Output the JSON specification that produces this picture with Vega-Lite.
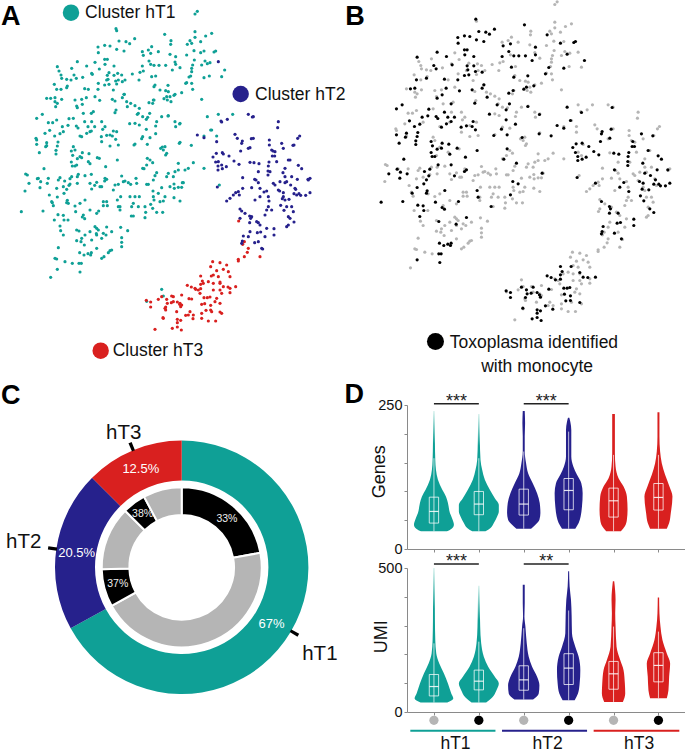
{"$schema":"https://vega.github.io/schema/vega-lite/v6.json","padding":0,"background":"white","bounds":"flush","columns":2,"spacing":{"row":19,"column":0},"resolve":{"scale":{"color":"independent"}},
"config":{"view":{"stroke":null},"font":"Liberation Sans","axis":{"grid":false,"domainColor":"#8a8a8a","tickColor":"#8a8a8a","labelColor":"#111","titleColor":"#111","labelFont":"Liberation Sans","titleFont":"Liberation Sans","titleFontWeight":"normal","labelFontSize":14.5}},
"datasets":{
"points":[
{"x":585,"y":42,"c":"hT1","t":0},{"x":592,"y":34,"c":"hT1","t":0},{"x":350,"y":92,"c":"hT1","t":0},{"x":585,"y":95,"c":"hT1","t":0},{"x":585,"y":112,"c":"hT1","t":0},{"x":617,"y":108,"c":"hT1","t":0},{"x":635,"y":100,"c":"hT1","t":0},{"x":513,"y":122,"c":"hT1","t":0},{"x":512,"y":133,"c":"hT1","t":0},{"x":570,"y":122,"c":"hT1","t":0},{"x":575,"y":130,"c":"hT1","t":0},{"x":602,"y":125,"c":"hT1","t":0},{"x":455,"y":140,"c":"hT1","t":0},{"x":445,"y":150,"c":"hT1","t":0},{"x":427,"y":155,"c":"hT1","t":0},{"x":475,"y":155,"c":"hT1","t":0},{"x":510,"y":163,"c":"hT1","t":0},{"x":560,"y":165,"c":"hT1","t":0},{"x":582,"y":152,"c":"hT1","t":0},{"x":612,"y":153,"c":"hT1","t":0},{"x":615,"y":183,"c":"hT1","t":0},{"x":630,"y":188,"c":"hT1","t":0},{"x":583,"y":180,"c":"hT1","t":0},{"x":525,"y":186,"c":"hT1","t":0},{"x":452,"y":193,"c":"hT1","t":0},{"x":540,"y":203,"c":"hT1","t":0},{"x":578,"y":195,"c":"hT1","t":0},{"x":575,"y":205,"c":"hT1","t":0},{"x":430,"y":213,"c":"hT1","t":0},{"x":420,"y":217,"c":"hT1","t":0},{"x":397,"y":222,"c":"hT1","t":0},{"x":365,"y":225,"c":"hT1","t":0},{"x":605,"y":195,"c":"hT1","t":0},{"x":665,"y":230,"c":"hT1","t":0},{"x":628,"y":228,"c":"hT1","t":0},{"x":575,"y":215,"c":"hT1","t":0},{"x":572,"y":228,"c":"hT1","t":0},{"x":560,"y":248,"c":"hT1","t":0},{"x":575,"y":250,"c":"hT1","t":0},{"x":578,"y":268,"c":"hT1","t":0},{"x":467,"y":228,"c":"hT1","t":0},{"x":417,"y":240,"c":"hT1","t":0},{"x":465,"y":255,"c":"hT1","t":0},{"x":285,"y":187,"c":"hT1","t":0},{"x":298,"y":207,"c":"hT1","t":0},{"x":275,"y":220,"c":"hT1","t":0},{"x":248,"y":232,"c":"hT1","t":0},{"x":215,"y":205,"c":"hT1","t":0},{"x":177,"y":213,"c":"hT1","t":0},{"x":183,"y":225,"c":"hT1","t":0},{"x":185,"y":235,"c":"hT1","t":0},{"x":213,"y":240,"c":"hT1","t":0},{"x":200,"y":238,"c":"hT1","t":0},{"x":353,"y":220,"c":"hT1","t":0},{"x":355,"y":240,"c":"hT1","t":0},{"x":327,"y":218,"c":"hT1","t":0},{"x":320,"y":240,"c":"hT1","t":0},{"x":375,"y":240,"c":"hT1","t":0},{"x":350,"y":252,"c":"hT1","t":0},{"x":163,"y":253,"c":"hT1","t":0},{"x":183,"y":268,"c":"hT1","t":0},{"x":202,"y":258,"c":"hT1","t":0},{"x":265,"y":268,"c":"hT1","t":0},{"x":295,"y":250,"c":"hT1","t":0},{"x":340,"y":270,"c":"hT1","t":0},{"x":373,"y":283,"c":"hT1","t":0},{"x":480,"y":270,"c":"hT1","t":0},{"x":497,"y":272,"c":"hT1","t":0},{"x":505,"y":275,"c":"hT1","t":0},{"x":510,"y":290,"c":"hT1","t":0},{"x":502,"y":300,"c":"hT1","t":0},{"x":525,"y":283,"c":"hT1","t":0},{"x":545,"y":278,"c":"hT1","t":0},{"x":513,"y":305,"c":"hT1","t":0},{"x":605,"y":298,"c":"hT1","t":0},{"x":140,"y":295,"c":"hT1","t":0},{"x":165,"y":305,"c":"hT1","t":0},{"x":172,"y":310,"c":"hT1","t":0},{"x":167,"y":320,"c":"hT1","t":0},{"x":185,"y":298,"c":"hT1","t":0},{"x":225,"y":300,"c":"hT1","t":0},{"x":245,"y":298,"c":"hT1","t":0},{"x":285,"y":290,"c":"hT1","t":0},{"x":345,"y":303,"c":"hT1","t":0},{"x":380,"y":305,"c":"hT1","t":0},{"x":392,"y":310,"c":"hT1","t":0},{"x":405,"y":317,"c":"hT1","t":0},{"x":418,"y":325,"c":"hT1","t":0},{"x":415,"y":340,"c":"hT1","t":0},{"x":462,"y":300,"c":"hT1","t":0},{"x":458,"y":310,"c":"hT1","t":0},{"x":428,"y":350,"c":"hT1","t":0},{"x":348,"y":330,"c":"hT1","t":0},{"x":280,"y":335,"c":"hT1","t":0},{"x":250,"y":340,"c":"hT1","t":0},{"x":230,"y":318,"c":"hT1","t":0},{"x":220,"y":355,"c":"hT1","t":0},{"x":170,"y":360,"c":"hT1","t":0},{"x":158,"y":368,"c":"hT1","t":0},{"x":145,"y":368,"c":"hT1","t":0},{"x":190,"y":395,"c":"hT1","t":0},{"x":135,"y":400,"c":"hT1","t":0},{"x":108,"y":415,"c":"hT1","t":0},{"x":110,"y":420,"c":"hT1","t":0},{"x":275,"y":365,"c":"hT1","t":0},{"x":305,"y":365,"c":"hT1","t":0},{"x":315,"y":380,"c":"hT1","t":0},{"x":308,"y":388,"c":"hT1","t":0},{"x":330,"y":405,"c":"hT1","t":0},{"x":350,"y":395,"c":"hT1","t":0},{"x":240,"y":408,"c":"hT1","t":0},{"x":270,"y":395,"c":"hT1","t":0},{"x":405,"y":370,"c":"hT1","t":0},{"x":418,"y":375,"c":"hT1","t":0},{"x":443,"y":352,"c":"hT1","t":0},{"x":470,"y":365,"c":"hT1","t":0},{"x":467,"y":378,"c":"hT1","t":0},{"x":485,"y":350,"c":"hT1","t":0},{"x":505,"y":347,"c":"hT1","t":0},{"x":525,"y":365,"c":"hT1","t":0},{"x":527,"y":380,"c":"hT1","t":0},{"x":540,"y":370,"c":"hT1","t":0},{"x":450,"y":413,"c":"hT1","t":0},{"x":428,"y":410,"c":"hT1","t":0},{"x":495,"y":440,"c":"hT1","t":0},{"x":482,"y":445,"c":"hT1","t":0},{"x":490,"y":450,"c":"hT1","t":0},{"x":500,"y":460,"c":"hT1","t":0},{"x":497,"y":465,"c":"hT1","t":0},{"x":405,"y":432,"c":"hT1","t":0},{"x":540,"y":427,"c":"hT1","t":0},{"x":612,"y":408,"c":"hT1","t":0},{"x":635,"y":390,"c":"hT1","t":0},{"x":650,"y":408,"c":"hT1","t":0},{"x":655,"y":343,"c":"hT1","t":0},{"x":698,"y":343,"c":"hT1","t":0},{"x":220,"y":440,"c":"hT1","t":0},{"x":225,"y":450,"c":"hT1","t":0},{"x":240,"y":470,"c":"hT1","t":0},{"x":265,"y":485,"c":"hT1","t":0},{"x":298,"y":475,"c":"hT1","t":0},{"x":330,"y":438,"c":"hT1","t":0},{"x":355,"y":435,"c":"hT1","t":0},{"x":305,"y":425,"c":"hT1","t":0},{"x":140,"y":437,"c":"hT1","t":0},{"x":230,"y":495,"c":"hT1","t":0},{"x":428,"y":505,"c":"hT1","t":0},{"x":440,"y":495,"c":"hT1","t":0},{"x":450,"y":480,"c":"hT1","t":0},{"x":458,"y":488,"c":"hT1","t":0},{"x":465,"y":527,"c":"hT1","t":0},{"x":535,"y":490,"c":"hT1","t":0},{"x":555,"y":510,"c":"hT1","t":0},{"x":565,"y":505,"c":"hT1","t":0},{"x":580,"y":488,"c":"hT1","t":0},{"x":612,"y":505,"c":"hT1","t":0},{"x":505,"y":520,"c":"hT1","t":0},{"x":525,"y":515,"c":"hT1","t":0},{"x":535,"y":510,"c":"hT1","t":0},{"x":77,"y":522,"c":"hT1","t":0},{"x":82,"y":525,"c":"hT1","t":0},{"x":115,"y":535,"c":"hT1","t":0},{"x":145,"y":535,"c":"hT1","t":0},{"x":175,"y":540,"c":"hT1","t":0},{"x":180,"y":533,"c":"hT1","t":0},{"x":75,"y":573,"c":"hT1","t":0},{"x":215,"y":530,"c":"hT1","t":0},{"x":232,"y":530,"c":"hT1","t":0},{"x":232,"y":550,"c":"hT1","t":0},{"x":210,"y":552,"c":"hT1","t":0},{"x":190,"y":560,"c":"hT1","t":0},{"x":170,"y":565,"c":"hT1","t":0},{"x":255,"y":527,"c":"hT1","t":0},{"x":270,"y":550,"c":"hT1","t":0},{"x":290,"y":547,"c":"hT1","t":0},{"x":315,"y":535,"c":"hT1","t":0},{"x":300,"y":560,"c":"hT1","t":0},{"x":365,"y":528,"c":"hT1","t":0},{"x":370,"y":545,"c":"hT1","t":0},{"x":375,"y":543,"c":"hT1","t":0},{"x":385,"y":548,"c":"hT1","t":0},{"x":392,"y":553,"c":"hT1","t":0},{"x":345,"y":555,"c":"hT1","t":0},{"x":355,"y":553,"c":"hT1","t":0},{"x":340,"y":570,"c":"hT1","t":0},{"x":408,"y":535,"c":"hT1","t":0},{"x":410,"y":550,"c":"hT1","t":0},{"x":440,"y":553,"c":"hT1","t":0},{"x":445,"y":553,"c":"hT1","t":0},{"x":460,"y":540,"c":"hT1","t":0},{"x":500,"y":530,"c":"hT1","t":0},{"x":520,"y":530,"c":"hT1","t":0},{"x":550,"y":548,"c":"hT1","t":0},{"x":522,"y":552,"c":"hT1","t":0},{"x":510,"y":560,"c":"hT1","t":0},{"x":485,"y":563,"c":"hT1","t":0},{"x":535,"y":562,"c":"hT1","t":0},{"x":545,"y":562,"c":"hT1","t":0},{"x":523,"y":565,"c":"hT1","t":0},{"x":148,"y":585,"c":"hT1","t":0},{"x":155,"y":605,"c":"hT1","t":0},{"x":160,"y":617,"c":"hT1","t":0},{"x":205,"y":610,"c":"hT1","t":0},{"x":225,"y":618,"c":"hT1","t":0},{"x":240,"y":610,"c":"hT1","t":0},{"x":275,"y":567,"c":"hT1","t":0},{"x":305,"y":560,"c":"hT1","t":0},{"x":320,"y":605,"c":"hT1","t":0},{"x":310,"y":605,"c":"hT1","t":0},{"x":310,"y":617,"c":"hT1","t":0},{"x":322,"y":617,"c":"hT1","t":0},{"x":362,"y":590,"c":"hT1","t":0},{"x":360,"y":620,"c":"hT1","t":0},{"x":360,"y":630,"c":"hT1","t":0},{"x":390,"y":590,"c":"hT1","t":0},{"x":405,"y":590,"c":"hT1","t":0},{"x":418,"y":590,"c":"hT1","t":0},{"x":400,"y":610,"c":"hT1","t":0},{"x":395,"y":620,"c":"hT1","t":0},{"x":400,"y":648,"c":"hT1","t":0},{"x":415,"y":620,"c":"hT1","t":0},{"x":435,"y":620,"c":"hT1","t":0},{"x":437,"y":637,"c":"hT1","t":0},{"x":435,"y":653,"c":"hT1","t":0},{"x":460,"y":590,"c":"hT1","t":0},{"x":462,"y":600,"c":"hT1","t":0},{"x":458,"y":625,"c":"hT1","t":0},{"x":480,"y":605,"c":"hT1","t":0},{"x":490,"y":603,"c":"hT1","t":0},{"x":495,"y":590,"c":"hT1","t":0},{"x":522,"y":593,"c":"hT1","t":0},{"x":540,"y":603,"c":"hT1","t":0},{"x":470,"y":637,"c":"hT1","t":0},{"x":488,"y":637,"c":"hT1","t":0},{"x":163,"y":660,"c":"hT1","t":0},{"x":204,"y":660,"c":"hT1","t":0},{"x":182,"y":692,"c":"hT1","t":0},{"x":190,"y":705,"c":"hT1","t":0},{"x":250,"y":645,"c":"hT1","t":0},{"x":270,"y":630,"c":"hT1","t":0},{"x":290,"y":640,"c":"hT1","t":0},{"x":230,"y":690,"c":"hT1","t":0},{"x":255,"y":705,"c":"hT1","t":0},{"x":245,"y":715,"c":"hT1","t":0},{"x":230,"y":722,"c":"hT1","t":0},{"x":243,"y":725,"c":"hT1","t":0},{"x":285,"y":680,"c":"hT1","t":0},{"x":290,"y":685,"c":"hT1","t":0},{"x":295,"y":690,"c":"hT1","t":0},{"x":270,"y":695,"c":"hT1","t":0},{"x":290,"y":705,"c":"hT1","t":0},{"x":310,"y":700,"c":"hT1","t":0},{"x":318,"y":705,"c":"hT1","t":0},{"x":335,"y":695,"c":"hT1","t":0},{"x":362,"y":682,"c":"hT1","t":0},{"x":383,"y":692,"c":"hT1","t":0},{"x":365,"y":713,"c":"hT1","t":0},{"x":365,"y":727,"c":"hT1","t":0},{"x":365,"y":740,"c":"hT1","t":0},{"x":305,"y":715,"c":"hT1","t":0},{"x":275,"y":720,"c":"hT1","t":0},{"x":253,"y":735,"c":"hT1","t":0},{"x":290,"y":745,"c":"hT1","t":0},{"x":175,"y":743,"c":"hT1","t":0},{"x":330,"y":752,"c":"hT1","t":0},{"x":335,"y":750,"c":"hT1","t":0},{"x":325,"y":758,"c":"hT1","t":0},{"x":305,"y":775,"c":"hT1","t":0},{"x":312,"y":770,"c":"hT1","t":0},{"x":165,"y":775,"c":"hT1","t":0},{"x":170,"y":777,"c":"hT1","t":0},{"x":195,"y":785,"c":"hT1","t":0},{"x":217,"y":790,"c":"hT1","t":0},{"x":152,"y":832,"c":"hT1","t":0},{"x":485,"y":868,"c":"hT1","t":0},{"x":490,"y":888,"c":"hT1","t":0},{"x":440,"y":904,"c":"hT1","t":0},
{"x":655,"y":185,"c":"hT2","t":0},{"x":745,"y":343,"c":"hT2","t":0},{"x":760,"y":350,"c":"hT2","t":0},{"x":663,"y":363,"c":"hT2","t":0},{"x":682,"y":358,"c":"hT2","t":0},{"x":650,"y":425,"c":"hT2","t":0},{"x":705,"y":403,"c":"hT2","t":0},{"x":712,"y":415,"c":"hT2","t":0},{"x":760,"y":415,"c":"hT2","t":0},{"x":745,"y":445,"c":"hT2","t":0},{"x":808,"y":420,"c":"hT2","t":0},{"x":808,"y":435,"c":"hT2","t":0},{"x":815,"y":450,"c":"hT2","t":0},{"x":825,"y":455,"c":"hT2","t":0},{"x":835,"y":365,"c":"hT2","t":0},{"x":833,"y":383,"c":"hT2","t":0},{"x":882,"y":435,"c":"hT2","t":0},{"x":893,"y":415,"c":"hT2","t":0},{"x":899,"y":408,"c":"hT2","t":0},{"x":850,"y":445,"c":"hT2","t":0},{"x":670,"y":462,"c":"hT2","t":0},{"x":750,"y":487,"c":"hT2","t":0},{"x":830,"y":485,"c":"hT2","t":0},{"x":655,"y":485,"c":"hT2","t":0},{"x":665,"y":495,"c":"hT2","t":0},{"x":870,"y":480,"c":"hT2","t":0},{"x":855,"y":505,"c":"hT2","t":0},{"x":810,"y":515,"c":"hT2","t":0},{"x":775,"y":515,"c":"hT2","t":0},{"x":855,"y":530,"c":"hT2","t":0},{"x":875,"y":530,"c":"hT2","t":0},{"x":930,"y":535,"c":"hT2","t":0},{"x":925,"y":540,"c":"hT2","t":0},{"x":728,"y":533,"c":"hT2","t":0},{"x":768,"y":540,"c":"hT2","t":0},{"x":775,"y":548,"c":"hT2","t":0},{"x":820,"y":550,"c":"hT2","t":0},{"x":825,"y":555,"c":"hT2","t":0},{"x":840,"y":545,"c":"hT2","t":0},{"x":860,"y":545,"c":"hT2","t":0},{"x":885,"y":565,"c":"hT2","t":0},{"x":835,"y":570,"c":"hT2","t":0},{"x":800,"y":573,"c":"hT2","t":0},{"x":780,"y":565,"c":"hT2","t":0},{"x":755,"y":563,"c":"hT2","t":0},{"x":728,"y":565,"c":"hT2","t":0},{"x":658,"y":555,"c":"hT1","t":0},{"x":715,"y":575,"c":"hT2","t":0},{"x":700,"y":585,"c":"hT2","t":0},{"x":690,"y":595,"c":"hT2","t":0},{"x":680,"y":603,"c":"hT2","t":0},{"x":718,"y":585,"c":"hT2","t":0},{"x":765,"y":600,"c":"hT2","t":0},{"x":805,"y":590,"c":"hT2","t":0},{"x":850,"y":590,"c":"hT2","t":0},{"x":855,"y":600,"c":"hT2","t":0},{"x":890,"y":585,"c":"hT2","t":0},{"x":860,"y":620,"c":"hT2","t":0},{"x":875,"y":620,"c":"hT2","t":0},{"x":880,"y":635,"c":"hT2","t":0},{"x":865,"y":650,"c":"hT2","t":0},{"x":860,"y":680,"c":"hT2","t":0},{"x":865,"y":675,"c":"hT2","t":0},{"x":805,"y":620,"c":"hT2","t":0},{"x":815,"y":630,"c":"hT2","t":0},{"x":800,"y":630,"c":"hT2","t":0},{"x":795,"y":645,"c":"hT2","t":0},{"x":720,"y":627,"c":"hT2","t":0},{"x":735,"y":640,"c":"hT2","t":0},{"x":755,"y":650,"c":"hT2","t":0},{"x":720,"y":655,"c":"hT2","t":0},{"x":770,"y":665,"c":"hT2","t":0},{"x":780,"y":675,"c":"hT2","t":0},{"x":750,"y":695,"c":"hT2","t":0},{"x":745,"y":710,"c":"hT2","t":0},{"x":800,"y":685,"c":"hT2","t":0},{"x":775,"y":725,"c":"hT2","t":0},{"x":795,"y":710,"c":"hT2","t":0},{"x":788,"y":747,"c":"hT2","t":0},
{"x":716,"y":663,"c":"hT3","t":0},{"x":733,"y":725,"c":"hT3","t":0},{"x":728,"y":733,"c":"hT3","t":0},{"x":745,"y":745,"c":"hT3","t":0},{"x":742,"y":757,"c":"hT3","t":0},{"x":733,"y":770,"c":"hT3","t":0},{"x":715,"y":778,"c":"hT3","t":0},{"x":715,"y":783,"c":"hT3","t":0},{"x":780,"y":770,"c":"hT3","t":0},{"x":638,"y":785,"c":"hT3","t":0},{"x":660,"y":788,"c":"hT3","t":0},{"x":680,"y":795,"c":"hT3","t":0},{"x":632,"y":800,"c":"hT3","t":0},{"x":650,"y":812,"c":"hT3","t":0},{"x":670,"y":808,"c":"hT3","t":0},{"x":685,"y":815,"c":"hT3","t":0},{"x":640,"y":825,"c":"hT3","t":0},{"x":655,"y":830,"c":"hT3","t":0},{"x":690,"y":830,"c":"hT3","t":0},{"x":625,"y":845,"c":"hT3","t":0},{"x":640,"y":850,"c":"hT3","t":0},{"x":610,"y":850,"c":"hT3","t":0},{"x":660,"y":850,"c":"hT3","t":0},{"x":690,"y":865,"c":"hT3","t":0},{"x":690,"y":878,"c":"hT3","t":0},{"x":665,"y":880,"c":"hT3","t":0},{"x":585,"y":865,"c":"hT3","t":0},{"x":595,"y":870,"c":"hT3","t":0},{"x":600,"y":880,"c":"hT3","t":0},{"x":640,"y":870,"c":"hT3","t":0},{"x":660,"y":870,"c":"hT3","t":0},{"x":650,"y":895,"c":"hT3","t":0},{"x":645,"y":905,"c":"hT3","t":0},{"x":660,"y":910,"c":"hT3","t":0},{"x":545,"y":885,"c":"hT3","t":0},{"x":515,"y":888,"c":"hT3","t":0},{"x":520,"y":905,"c":"hT3","t":0},{"x":540,"y":910,"c":"hT3","t":0},{"x":475,"y":898,"c":"hT3","t":0},{"x":575,"y":897,"c":"hT3","t":0},{"x":605,"y":913,"c":"hT3","t":0},{"x":635,"y":935,"c":"hT3","t":0},{"x":665,"y":940,"c":"hT3","t":0},{"x":570,"y":935,"c":"hT3","t":0},{"x":605,"y":940,"c":"hT3","t":0},{"x":495,"y":925,"c":"hT3","t":0},{"x":497,"y":930,"c":"hT3","t":0},{"x":545,"y":915,"c":"hT3","t":0},{"x":490,"y":955,"c":"hT3","t":0},{"x":530,"y":935,"c":"hT3","t":0},{"x":565,"y":945,"c":"hT3","t":0},{"x":580,"y":945,"c":"hT3","t":0},{"x":605,"y":955,"c":"hT3","t":0},{"x":625,"y":963,"c":"hT3","t":0},{"x":647,"y":963,"c":"hT3","t":0},{"x":465,"y":988,"c":"hT3","t":0},
{"x":348,"y":86,"c":"hT1","t":1},{"x":494,"y":103,"c":"hT1","t":1},{"x":357,"y":123,"c":"hT1","t":1},{"x":378,"y":125,"c":"hT1","t":1},{"x":389,"y":131,"c":"hT1","t":1},{"x":404,"y":116,"c":"hT1","t":1},{"x":294,"y":141,"c":"hT1","t":1},{"x":314,"y":136,"c":"hT1","t":1},{"x":330,"y":138,"c":"hT1","t":1},{"x":295,"y":158,"c":"hT1","t":1},{"x":350,"y":148,"c":"hT1","t":1},{"x":372,"y":153,"c":"hT1","t":1},{"x":562,"y":133,"c":"hT1","t":1},{"x":647,"y":153,"c":"hT1","t":1},{"x":642,"y":156,"c":"hT1","t":1},{"x":602,"y":158,"c":"hT1","t":1},{"x":452,"y":160,"c":"hT1","t":1},{"x":430,"y":166,"c":"hT1","t":1},{"x":527,"y":170,"c":"hT1","t":1},{"x":447,"y":183,"c":"hT1","t":1},{"x":462,"y":196,"c":"hT1","t":1},{"x":477,"y":196,"c":"hT1","t":1},{"x":497,"y":196,"c":"hT1","t":1},{"x":527,"y":193,"c":"hT1","t":1},{"x":517,"y":210,"c":"hT1","t":1},{"x":427,"y":198,"c":"hT1","t":1},{"x":622,"y":191,"c":"hT1","t":1},{"x":674,"y":210,"c":"hT1","t":1},{"x":612,"y":233,"c":"hT1","t":1},{"x":567,"y":231,"c":"hT1","t":1},{"x":557,"y":250,"c":"hT1","t":1},{"x":232,"y":185,"c":"hT1","t":1},{"x":172,"y":200,"c":"hT1","t":1},{"x":260,"y":198,"c":"hT1","t":1},{"x":314,"y":178,"c":"hT1","t":1},{"x":322,"y":178,"c":"hT1","t":1},{"x":315,"y":193,"c":"hT1","t":1},{"x":342,"y":198,"c":"hT1","t":1},{"x":277,"y":223,"c":"hT1","t":1},{"x":222,"y":225,"c":"hT1","t":1},{"x":229,"y":235,"c":"hT1","t":1},{"x":322,"y":226,"c":"hT1","t":1},{"x":324,"y":238,"c":"hT1","t":1},{"x":342,"y":226,"c":"hT1","t":1},{"x":347,"y":243,"c":"hT1","t":1},{"x":367,"y":245,"c":"hT1","t":1},{"x":455,"y":230,"c":"hT1","t":1},{"x":462,"y":260,"c":"hT1","t":1},{"x":504,"y":256,"c":"hT1","t":1},{"x":294,"y":268,"c":"hT1","t":1},{"x":254,"y":266,"c":"hT1","t":1},{"x":314,"y":255,"c":"hT1","t":1},{"x":327,"y":253,"c":"hT1","t":1},{"x":170,"y":268,"c":"hT1","t":1},{"x":200,"y":263,"c":"hT1","t":1},{"x":372,"y":283,"c":"hT1","t":1},{"x":367,"y":293,"c":"hT1","t":1},{"x":337,"y":298,"c":"hT1","t":1},{"x":299,"y":301,"c":"hT1","t":1},{"x":259,"y":293,"c":"hT1","t":1},{"x":247,"y":313,"c":"hT1","t":1},{"x":232,"y":323,"c":"hT1","t":1},{"x":460,"y":300,"c":"hT1","t":1},{"x":447,"y":308,"c":"hT1","t":1},{"x":500,"y":290,"c":"hT1","t":1},{"x":492,"y":296,"c":"hT1","t":1},{"x":522,"y":286,"c":"hT1","t":1},{"x":165,"y":293,"c":"hT1","t":1},{"x":152,"y":295,"c":"hT1","t":1},{"x":382,"y":320,"c":"hT1","t":1},{"x":412,"y":343,"c":"hT1","t":1},{"x":345,"y":338,"c":"hT1","t":1},{"x":449,"y":340,"c":"hT1","t":1},{"x":439,"y":358,"c":"hT1","t":1},{"x":504,"y":348,"c":"hT1","t":1},{"x":539,"y":372,"c":"hT1","t":1},{"x":389,"y":371,"c":"hT1","t":1},{"x":110,"y":355,"c":"hT1","t":1},{"x":127,"y":343,"c":"hT1","t":1},{"x":207,"y":356,"c":"hT1","t":1},{"x":187,"y":380,"c":"hT1","t":1},{"x":204,"y":376,"c":"hT1","t":1},{"x":229,"y":378,"c":"hT1","t":1},{"x":234,"y":384,"c":"hT1","t":1},{"x":149,"y":391,"c":"hT1","t":1},{"x":164,"y":408,"c":"hT1","t":1},{"x":180,"y":401,"c":"hT1","t":1},{"x":254,"y":365,"c":"hT1","t":1},{"x":274,"y":340,"c":"hT1","t":1},{"x":264,"y":380,"c":"hT1","t":1},{"x":284,"y":380,"c":"hT1","t":1},{"x":245,"y":410,"c":"hT1","t":1},{"x":260,"y":400,"c":"hT1","t":1},{"x":274,"y":393,"c":"hT1","t":1},{"x":304,"y":410,"c":"hT1","t":1},{"x":320,"y":406,"c":"hT1","t":1},{"x":340,"y":393,"c":"hT1","t":1},{"x":337,"y":408,"c":"hT1","t":1},{"x":347,"y":418,"c":"hT1","t":1},{"x":110,"y":433,"c":"hT1","t":1},{"x":140,"y":428,"c":"hT1","t":1},{"x":137,"y":440,"c":"hT1","t":1},{"x":174,"y":426,"c":"hT1","t":1},{"x":172,"y":438,"c":"hT1","t":1},{"x":168,"y":451,"c":"hT1","t":1},{"x":168,"y":462,"c":"hT1","t":1},{"x":118,"y":458,"c":"hT1","t":1},{"x":214,"y":453,"c":"hT1","t":1},{"x":218,"y":466,"c":"hT1","t":1},{"x":232,"y":476,"c":"hT1","t":1},{"x":247,"y":458,"c":"hT1","t":1},{"x":245,"y":473,"c":"hT1","t":1},{"x":267,"y":461,"c":"hT1","t":1},{"x":292,"y":473,"c":"hT1","t":1},{"x":214,"y":486,"c":"hT1","t":1},{"x":217,"y":498,"c":"hT1","t":1},{"x":225,"y":498,"c":"hT1","t":1},{"x":270,"y":491,"c":"hT1","t":1},{"x":317,"y":500,"c":"hT1","t":1},{"x":352,"y":480,"c":"hT1","t":1},{"x":132,"y":506,"c":"hT1","t":1},{"x":112,"y":536,"c":"hT1","t":1},{"x":122,"y":545,"c":"hT1","t":1},{"x":87,"y":550,"c":"hT1","t":1},{"x":120,"y":563,"c":"hT1","t":1},{"x":142,"y":550,"c":"hT1","t":1},{"x":235,"y":523,"c":"hT1","t":1},{"x":274,"y":523,"c":"hT1","t":1},{"x":194,"y":543,"c":"hT1","t":1},{"x":210,"y":536,"c":"hT1","t":1},{"x":207,"y":556,"c":"hT1","t":1},{"x":200,"y":568,"c":"hT1","t":1},{"x":192,"y":580,"c":"hT1","t":1},{"x":172,"y":591,"c":"hT1","t":1},{"x":284,"y":556,"c":"hT1","t":1},{"x":314,"y":543,"c":"hT1","t":1},{"x":320,"y":538,"c":"hT1","t":1},{"x":157,"y":608,"c":"hT1","t":1},{"x":202,"y":601,"c":"hT1","t":1},{"x":200,"y":608,"c":"hT1","t":1},{"x":227,"y":635,"c":"hT1","t":1},{"x":255,"y":600,"c":"hT1","t":1},{"x":64,"y":635,"c":"hT1","t":1},{"x":129,"y":633,"c":"hT1","t":1},{"x":174,"y":644,"c":"hT1","t":1},{"x":190,"y":646,"c":"hT1","t":1},{"x":192,"y":660,"c":"hT1","t":1},{"x":180,"y":678,"c":"hT1","t":1},{"x":247,"y":651,"c":"hT1","t":1},{"x":254,"y":656,"c":"hT1","t":1},{"x":296,"y":633,"c":"hT1","t":1},{"x":237,"y":693,"c":"hT1","t":1},{"x":289,"y":701,"c":"hT1","t":1},{"x":320,"y":681,"c":"hT1","t":1},{"x":239,"y":758,"c":"hT1","t":1},{"x":252,"y":765,"c":"hT1","t":1},{"x":264,"y":761,"c":"hT1","t":1},{"x":274,"y":758,"c":"hT1","t":1},{"x":272,"y":765,"c":"hT1","t":1},{"x":237,"y":790,"c":"hT1","t":1},{"x":244,"y":790,"c":"hT1","t":1},{"x":240,"y":816,"c":"hT1","t":1},{"x":172,"y":808,"c":"hT1","t":1},{"x":439,"y":388,"c":"hT1","t":1},{"x":467,"y":401,"c":"hT1","t":1},{"x":425,"y":416,"c":"hT1","t":1},{"x":442,"y":433,"c":"hT1","t":1},{"x":487,"y":441,"c":"hT1","t":1},{"x":538,"y":430,"c":"hT1","t":1},{"x":402,"y":435,"c":"hT1","t":1},{"x":442,"y":475,"c":"hT1","t":1},{"x":432,"y":506,"c":"hT1","t":1},{"x":470,"y":518,"c":"hT1","t":1},{"x":352,"y":600,"c":"hT1","t":1},{"x":355,"y":620,"c":"hT1","t":1},{"x":394,"y":648,"c":"hT1","t":1},{"x":452,"y":613,"c":"hT1","t":1},{"x":459,"y":573,"c":"hT1","t":1},{"x":475,"y":580,"c":"hT1","t":1},{"x":547,"y":548,"c":"hT1","t":1},{"x":574,"y":436,"c":"hT1","t":1},{"x":622,"y":350,"c":"hT1","t":1},{"x":592,"y":405,"c":"hT2","t":1},{"x":612,"y":413,"c":"hT2","t":1},{"x":632,"y":390,"c":"hT1","t":1},{"x":665,"y":366,"c":"hT2","t":1},{"x":757,"y":351,"c":"hT2","t":1},
{"x":727,"y":423,"c":"hT2","t":1},{"x":725,"y":430,"c":"hT2","t":1},{"x":754,"y":416,"c":"hT2","t":1},{"x":750,"y":443,"c":"hT2","t":1},{"x":722,"y":453,"c":"hT2","t":1},{"x":639,"y":471,"c":"hT2","t":1},{"x":649,"y":460,"c":"hT2","t":1},{"x":667,"y":458,"c":"hT2","t":1},{"x":687,"y":468,"c":"hT2","t":1},{"x":702,"y":483,"c":"hT2","t":1},{"x":717,"y":493,"c":"hT2","t":1},{"x":647,"y":486,"c":"hT2","t":1},{"x":654,"y":498,"c":"hT2","t":1},{"x":654,"y":510,"c":"hT2","t":1},{"x":667,"y":506,"c":"hT2","t":1},{"x":679,"y":500,"c":"hT2","t":1},{"x":652,"y":561,"c":"hT2","t":1},{"x":762,"y":488,"c":"hT2","t":1},{"x":777,"y":491,"c":"hT2","t":1},{"x":807,"y":486,"c":"hT2","t":1},{"x":805,"y":498,"c":"hT2","t":1},{"x":804,"y":513,"c":"hT2","t":1},{"x":804,"y":525,"c":"hT2","t":1},{"x":819,"y":453,"c":"hT2","t":1},{"x":824,"y":468,"c":"hT2","t":1},{"x":817,"y":468,"c":"hT2","t":1},{"x":845,"y":430,"c":"hT2","t":1},{"x":879,"y":436,"c":"hT2","t":1},{"x":865,"y":480,"c":"hT2","t":1},{"x":895,"y":496,"c":"hT2","t":1},{"x":905,"y":506,"c":"hT2","t":1},{"x":849,"y":518,"c":"hT2","t":1},{"x":764,"y":538,"c":"hT2","t":1},{"x":855,"y":548,"c":"hT2","t":1},{"x":872,"y":555,"c":"hT2","t":1},{"x":892,"y":538,"c":"hT2","t":1},{"x":924,"y":538,"c":"hT2","t":1},{"x":887,"y":568,"c":"hT2","t":1},{"x":839,"y":573,"c":"hT2","t":1},{"x":780,"y":590,"c":"hT2","t":1},{"x":792,"y":576,"c":"hT2","t":1},{"x":807,"y":603,"c":"hT2","t":1},{"x":850,"y":578,"c":"hT2","t":1},{"x":847,"y":596,"c":"hT2","t":1},{"x":867,"y":598,"c":"hT2","t":1},{"x":842,"y":616,"c":"hT2","t":1},{"x":852,"y":631,"c":"hT2","t":1},{"x":870,"y":655,"c":"hT2","t":1},{"x":882,"y":666,"c":"hT2","t":1},{"x":882,"y":581,"c":"hT2","t":1},{"x":897,"y":581,"c":"hT2","t":1},{"x":902,"y":586,"c":"hT2","t":1},{"x":917,"y":586,"c":"hT2","t":1},{"x":930,"y":578,"c":"hT2","t":1},{"x":707,"y":578,"c":"hT2","t":1},{"x":725,"y":633,"c":"hT2","t":1},{"x":749,"y":648,"c":"hT2","t":1},{"x":752,"y":655,"c":"hT2","t":1},{"x":775,"y":668,"c":"hT2","t":1},{"x":749,"y":668,"c":"hT2","t":1},{"x":822,"y":686,"c":"hT2","t":1},{"x":822,"y":705,"c":"hT2","t":1},{"x":772,"y":698,"c":"hT2","t":1},{"x":782,"y":696,"c":"hT2","t":1},{"x":730,"y":708,"c":"hT2","t":1},{"x":727,"y":723,"c":"hT2","t":1},{"x":725,"y":730,"c":"hT2","t":1},{"x":764,"y":728,"c":"hT2","t":1},{"x":785,"y":745,"c":"hT2","t":1},
{"x":439,"y":901,"c":"hT3","t":1},{"x":452,"y":906,"c":"hT3","t":1},{"x":452,"y":921,"c":"hT3","t":1},{"x":485,"y":890,"c":"hT3","t":1},{"x":500,"y":898,"c":"hT3","t":1},{"x":502,"y":910,"c":"hT3","t":1},{"x":497,"y":921,"c":"hT3","t":1},{"x":514,"y":908,"c":"hT3","t":1},{"x":520,"y":890,"c":"hT3","t":1},{"x":532,"y":906,"c":"hT3","t":1},{"x":539,"y":913,"c":"hT3","t":1},{"x":542,"y":920,"c":"hT3","t":1},{"x":567,"y":896,"c":"hT3","t":1},{"x":562,"y":856,"c":"hT3","t":1},{"x":574,"y":861,"c":"hT3","t":1},{"x":602,"y":828,"c":"hT3","t":1},{"x":602,"y":853,"c":"hT3","t":1},{"x":607,"y":843,"c":"hT3","t":1},{"x":634,"y":828,"c":"hT3","t":1},{"x":660,"y":846,"c":"hT3","t":1},{"x":670,"y":860,"c":"hT3","t":1},{"x":684,"y":861,"c":"hT3","t":1},{"x":707,"y":860,"c":"hT3","t":1},{"x":587,"y":868,"c":"hT3","t":1},{"x":602,"y":866,"c":"hT3","t":1},{"x":612,"y":893,"c":"hT3","t":1},{"x":622,"y":893,"c":"hT3","t":1},{"x":630,"y":891,"c":"hT3","t":1},{"x":614,"y":911,"c":"hT3","t":1},{"x":632,"y":916,"c":"hT3","t":1},{"x":618,"y":931,"c":"hT3","t":1},{"x":632,"y":930,"c":"hT3","t":1},{"x":660,"y":936,"c":"hT3","t":1},{"x":489,"y":953,"c":"hT3","t":1},{"x":532,"y":958,"c":"hT3","t":1},{"x":542,"y":961,"c":"hT3","t":1},{"x":557,"y":946,"c":"hT3","t":1},{"x":579,"y":956,"c":"hT3","t":1},{"x":532,"y":968,"c":"hT3","t":1},{"x":517,"y":985,"c":"hT3","t":1},{"x":532,"y":981,"c":"hT3","t":1},{"x":544,"y":990,"c":"hT3","t":1}
],
"violins":[
{"m":"Genes","g":"hT1","v":1,"y":30.6,"lo":0.31,"hi":0.89},{"m":"Genes","g":"hT1","v":1,"y":34.6,"lo":0.214,"hi":0.986},{"m":"Genes","g":"hT1","v":1,"y":42.1,"lo":0.155,"hi":1.045},{"m":"Genes","g":"hT1","v":1,"y":50.8,"lo":0.184,"hi":1.016},{"m":"Genes","g":"hT1","v":1,"y":62.4,"lo":0.244,"hi":0.956},{"m":"Genes","g":"hT1","v":1,"y":79.7,"lo":0.288,"hi":0.912},{"m":"Genes","g":"hT1","v":1,"y":91.2,"lo":0.333,"hi":0.867},{"m":"Genes","g":"hT1","v":1,"y":102.8,"lo":0.414,"hi":0.786},{"m":"Genes","g":"hT1","v":1,"y":120.1,"lo":0.511,"hi":0.689},{"m":"Genes","g":"hT1","v":1,"y":137.4,"lo":0.555,"hi":0.645},{"m":"Genes","g":"hT1","v":1,"y":154.7,"lo":0.57,"hi":0.63},{"m":"Genes","g":"hT1","v":1,"y":183.6,"lo":0.578,"hi":0.622},{"m":"Genes","g":"hT1","v":1,"y":212.5,"lo":0.581,"hi":0.619},{"m":"Genes","g":"hT1","v":1,"y":239.6,"lo":0.585,"hi":0.615},
{"m":"Genes","g":"hT1","v":2,"y":30.6,"lo":1.452,"hi":1.748},{"m":"Genes","g":"hT1","v":2,"y":36.4,"lo":1.34,"hi":1.86},{"m":"Genes","g":"hT1","v":2,"y":45,"lo":1.266,"hi":1.934},{"m":"Genes","g":"hT1","v":2,"y":56.6,"lo":1.192,"hi":2.008},{"m":"Genes","g":"hT1","v":2,"y":65.2,"lo":1.155,"hi":2.045},{"m":"Genes","g":"hT1","v":2,"y":76.8,"lo":1.155,"hi":2.045},{"m":"Genes","g":"hT1","v":2,"y":88.3,"lo":1.244,"hi":1.956},{"m":"Genes","g":"hT1","v":2,"y":102.8,"lo":1.355,"hi":1.845},{"m":"Genes","g":"hT1","v":2,"y":120.1,"lo":1.466,"hi":1.734},{"m":"Genes","g":"hT1","v":2,"y":137.4,"lo":1.526,"hi":1.674},{"m":"Genes","g":"hT1","v":2,"y":154.7,"lo":1.563,"hi":1.637},{"m":"Genes","g":"hT1","v":2,"y":189.4,"lo":1.578,"hi":1.622},{"m":"Genes","g":"hT1","v":2,"y":234.4,"lo":1.585,"hi":1.615},
{"m":"Genes","g":"hT2","v":3,"y":35.2,"lo":2.437,"hi":2.763},{"m":"Genes","g":"hT2","v":3,"y":42.1,"lo":2.34,"hi":2.86},{"m":"Genes","g":"hT2","v":3,"y":50.8,"lo":2.251,"hi":2.949},{"m":"Genes","g":"hT2","v":3,"y":62.4,"lo":2.229,"hi":2.971},{"m":"Genes","g":"hT2","v":3,"y":79.7,"lo":2.244,"hi":2.956},{"m":"Genes","g":"hT2","v":3,"y":97,"lo":2.303,"hi":2.897},{"m":"Genes","g":"hT2","v":3,"y":114.3,"lo":2.4,"hi":2.8},{"m":"Genes","g":"hT2","v":3,"y":131.6,"lo":2.503,"hi":2.697},{"m":"Genes","g":"hT2","v":3,"y":149,"lo":2.548,"hi":2.652},{"m":"Genes","g":"hT2","v":3,"y":169.2,"lo":2.578,"hi":2.622},{"m":"Genes","g":"hT2","v":3,"y":195.2,"lo":2.578,"hi":2.622},{"m":"Genes","g":"hT2","v":3,"y":218.3,"lo":2.57,"hi":2.63},{"m":"Genes","g":"hT2","v":3,"y":239.6,"lo":2.578,"hi":2.622},
{"m":"Genes","g":"hT2","v":4,"y":35.2,"lo":3.452,"hi":3.748},{"m":"Genes","g":"hT2","v":4,"y":45,"lo":3.377,"hi":3.823},{"m":"Genes","g":"hT2","v":4,"y":56.6,"lo":3.333,"hi":3.867},{"m":"Genes","g":"hT2","v":4,"y":73.9,"lo":3.303,"hi":3.897},{"m":"Genes","g":"hT2","v":4,"y":97,"lo":3.288,"hi":3.912},{"m":"Genes","g":"hT2","v":4,"y":114.3,"lo":3.318,"hi":3.882},{"m":"Genes","g":"hT2","v":4,"y":128.8,"lo":3.414,"hi":3.786},{"m":"Genes","g":"hT2","v":4,"y":143.2,"lo":3.496,"hi":3.704},{"m":"Genes","g":"hT2","v":4,"y":160.5,"lo":3.541,"hi":3.659},{"m":"Genes","g":"hT2","v":4,"y":183.6,"lo":3.541,"hi":3.659},{"m":"Genes","g":"hT2","v":4,"y":206.7,"lo":3.541,"hi":3.659},{"m":"Genes","g":"hT2","v":4,"y":221.1,"lo":3.563,"hi":3.637},{"m":"Genes","g":"hT2","v":4,"y":228,"lo":3.585,"hi":3.615},
{"m":"Genes","g":"hT3","v":5,"y":30.6,"lo":4.437,"hi":4.763},{"m":"Genes","g":"hT3","v":5,"y":39.3,"lo":4.348,"hi":4.852},{"m":"Genes","g":"hT3","v":5,"y":50.8,"lo":4.303,"hi":4.897},{"m":"Genes","g":"hT3","v":5,"y":68.1,"lo":4.288,"hi":4.912},{"m":"Genes","g":"hT3","v":5,"y":91.2,"lo":4.303,"hi":4.897},{"m":"Genes","g":"hT3","v":5,"y":108.5,"lo":4.377,"hi":4.823},{"m":"Genes","g":"hT3","v":5,"y":123,"lo":4.489,"hi":4.711},{"m":"Genes","g":"hT3","v":5,"y":143.2,"lo":4.555,"hi":4.645},{"m":"Genes","g":"hT3","v":5,"y":166.3,"lo":4.57,"hi":4.63},{"m":"Genes","g":"hT3","v":5,"y":200.9,"lo":4.57,"hi":4.63},{"m":"Genes","g":"hT3","v":5,"y":234.4,"lo":4.57,"hi":4.63},
{"m":"Genes","g":"hT3","v":6,"y":35.2,"lo":5.414,"hi":5.786},{"m":"Genes","g":"hT3","v":6,"y":45,"lo":5.362,"hi":5.838},{"m":"Genes","g":"hT3","v":6,"y":62.4,"lo":5.325,"hi":5.875},{"m":"Genes","g":"hT3","v":6,"y":91.2,"lo":5.288,"hi":5.912},{"m":"Genes","g":"hT3","v":6,"y":108.5,"lo":5.355,"hi":5.845},{"m":"Genes","g":"hT3","v":6,"y":128.8,"lo":5.452,"hi":5.748},{"m":"Genes","g":"hT3","v":6,"y":149,"lo":5.526,"hi":5.674},{"m":"Genes","g":"hT3","v":6,"y":169.2,"lo":5.563,"hi":5.637},{"m":"Genes","g":"hT3","v":6,"y":195.2,"lo":5.578,"hi":5.622},{"m":"Genes","g":"hT3","v":6,"y":237.3,"lo":5.578,"hi":5.622},
{"m":"UMI","g":"hT1","v":1,"y":32.6,"lo":0.303,"hi":0.897},{"m":"UMI","g":"hT1","v":1,"y":46.5,"lo":0.169,"hi":1.031},{"m":"UMI","g":"hT1","v":1,"y":64,"lo":0.214,"hi":0.986},{"m":"UMI","g":"hT1","v":1,"y":98.9,"lo":0.288,"hi":0.912},{"m":"UMI","g":"hT1","v":1,"y":133.7,"lo":0.377,"hi":0.823},{"m":"UMI","g":"hT1","v":1,"y":168.6,"lo":0.481,"hi":0.719},{"m":"UMI","g":"hT1","v":1,"y":203.5,"lo":0.548,"hi":0.652},{"m":"UMI","g":"hT1","v":1,"y":250,"lo":0.57,"hi":0.63},{"m":"UMI","g":"hT1","v":1,"y":319.8,"lo":0.578,"hi":0.622},{"m":"UMI","g":"hT1","v":1,"y":412.9,"lo":0.581,"hi":0.619},{"m":"UMI","g":"hT1","v":1,"y":500,"lo":0.585,"hi":0.615},
{"m":"UMI","g":"hT1","v":2,"y":32.6,"lo":1.437,"hi":1.763},{"m":"UMI","g":"hT1","v":2,"y":50,"lo":1.303,"hi":1.897},{"m":"UMI","g":"hT1","v":2,"y":75.6,"lo":1.207,"hi":1.993},{"m":"UMI","g":"hT1","v":2,"y":98.9,"lo":1.155,"hi":2.045},{"m":"UMI","g":"hT1","v":2,"y":122.1,"lo":1.244,"hi":1.956},{"m":"UMI","g":"hT1","v":2,"y":157,"lo":1.392,"hi":1.808},{"m":"UMI","g":"hT1","v":2,"y":191.9,"lo":1.489,"hi":1.711},{"m":"UMI","g":"hT1","v":2,"y":238.4,"lo":1.548,"hi":1.652},{"m":"UMI","g":"hT1","v":2,"y":296.6,"lo":1.57,"hi":1.63},{"m":"UMI","g":"hT1","v":2,"y":366.3,"lo":1.578,"hi":1.622},{"m":"UMI","g":"hT1","v":2,"y":438.5,"lo":1.585,"hi":1.615},
{"m":"UMI","g":"hT2","v":3,"y":43,"lo":2.392,"hi":2.808},{"m":"UMI","g":"hT2","v":3,"y":64,"lo":2.266,"hi":2.934},{"m":"UMI","g":"hT2","v":3,"y":93,"lo":2.251,"hi":2.949},{"m":"UMI","g":"hT2","v":3,"y":122.1,"lo":2.303,"hi":2.897},{"m":"UMI","g":"hT2","v":3,"y":157,"lo":2.414,"hi":2.786},{"m":"UMI","g":"hT2","v":3,"y":191.9,"lo":2.489,"hi":2.711},{"m":"UMI","g":"hT2","v":3,"y":238.4,"lo":2.533,"hi":2.667},{"m":"UMI","g":"hT2","v":3,"y":296.6,"lo":2.563,"hi":2.637},{"m":"UMI","g":"hT2","v":3,"y":331.5,"lo":2.585,"hi":2.615},{"m":"UMI","g":"hT2","v":3,"y":378,"lo":2.578,"hi":2.622},{"m":"UMI","g":"hT2","v":3,"y":442,"lo":2.578,"hi":2.622},
{"m":"UMI","g":"hT2","v":4,"y":40.7,"lo":3.466,"hi":3.734},{"m":"UMI","g":"hT2","v":4,"y":64,"lo":3.392,"hi":3.808},{"m":"UMI","g":"hT2","v":4,"y":98.9,"lo":3.355,"hi":3.845},{"m":"UMI","g":"hT2","v":4,"y":145.4,"lo":3.34,"hi":3.86},{"m":"UMI","g":"hT2","v":4,"y":191.9,"lo":3.377,"hi":3.823},{"m":"UMI","g":"hT2","v":4,"y":226.8,"lo":3.452,"hi":3.748},{"m":"UMI","g":"hT2","v":4,"y":273.3,"lo":3.526,"hi":3.674},{"m":"UMI","g":"hT2","v":4,"y":331.5,"lo":3.533,"hi":3.667},{"m":"UMI","g":"hT2","v":4,"y":389.6,"lo":3.548,"hi":3.652},{"m":"UMI","g":"hT2","v":4,"y":436.1,"lo":3.578,"hi":3.622},{"m":"UMI","g":"hT2","v":4,"y":488.5,"lo":3.589,"hi":3.611},
{"m":"UMI","g":"hT3","v":5,"y":34.9,"lo":4.392,"hi":4.808},{"m":"UMI","g":"hT3","v":5,"y":64,"lo":4.34,"hi":4.86},{"m":"UMI","g":"hT3","v":5,"y":98.9,"lo":4.348,"hi":4.852},{"m":"UMI","g":"hT3","v":5,"y":145.4,"lo":4.377,"hi":4.823},{"m":"UMI","g":"hT3","v":5,"y":180.3,"lo":4.452,"hi":4.748},{"m":"UMI","g":"hT3","v":5,"y":226.8,"lo":4.533,"hi":4.667},{"m":"UMI","g":"hT3","v":5,"y":296.6,"lo":4.555,"hi":4.645},{"m":"UMI","g":"hT3","v":5,"y":343.1,"lo":4.563,"hi":4.637},{"m":"UMI","g":"hT3","v":5,"y":389.6,"lo":4.555,"hi":4.645},{"m":"UMI","g":"hT3","v":5,"y":453.6,"lo":4.585,"hi":4.615},
{"m":"UMI","g":"hT3","v":6,"y":47.7,"lo":5.414,"hi":5.786},{"m":"UMI","g":"hT3","v":6,"y":75.6,"lo":5.377,"hi":5.823},{"m":"UMI","g":"hT3","v":6,"y":122.1,"lo":5.362,"hi":5.838},{"m":"UMI","g":"hT3","v":6,"y":168.6,"lo":5.34,"hi":5.86},{"m":"UMI","g":"hT3","v":6,"y":203.5,"lo":5.414,"hi":5.786},{"m":"UMI","g":"hT3","v":6,"y":250,"lo":5.511,"hi":5.689},{"m":"UMI","g":"hT3","v":6,"y":296.6,"lo":5.555,"hi":5.645},{"m":"UMI","g":"hT3","v":6,"y":343.1,"lo":5.578,"hi":5.622},{"m":"UMI","g":"hT3","v":6,"y":397.7,"lo":5.585,"hi":5.615}
],
"boxes":[
{"m":"Genes","pos":0.6,"b1":0.496,"b2":0.704,"wlo":30.6,"q1":45,"med":65.2,"q3":90,"wtop":157.6},
{"m":"Genes","pos":1.6,"b1":1.496,"b2":1.704,"wlo":30.6,"q1":59.5,"med":78,"q3":99.9,"wtop":157.6},
{"m":"Genes","pos":2.6,"b1":2.496,"b2":2.704,"wlo":35.2,"q1":58.9,"med":78,"q3":103.9,"wtop":169.2},
{"m":"Genes","pos":3.6,"b1":3.496,"b2":3.704,"wlo":35.2,"q1":68.1,"med":101.6,"q3":122.4,"wtop":203.8},
{"m":"Genes","pos":4.6,"b1":4.496,"b2":4.704,"wlo":30.6,"q1":55.4,"med":83.7,"q3":105.7,"wtop":163.4},
{"m":"Genes","pos":5.6,"b1":5.496,"b2":5.704,"wlo":35.2,"q1":67.6,"med":89.5,"q3":113.7,"wtop":163.4},
{"m":"UMI","pos":0.6,"b1":0.496,"b2":0.704,"wlo":32.6,"q1":55.8,"med":88.4,"q3":130.3,"wtop":238.4},
{"m":"UMI","pos":1.6,"b1":1.496,"b2":1.704,"wlo":32.6,"q1":76.8,"med":107,"q3":145.4,"wtop":244.2},
{"m":"UMI","pos":2.6,"b1":2.496,"b2":2.704,"wlo":43,"q1":75.6,"med":111.6,"q3":160.5,"wtop":290.8},
{"m":"UMI","pos":3.6,"b1":3.496,"b2":3.704,"wlo":40.7,"q1":95.4,"med":152.4,"q3":202.4,"wtop":352.4},
{"m":"UMI","pos":4.6,"b1":4.496,"b2":4.704,"wlo":34.9,"q1":79.1,"med":132.6,"q3":175.6,"wtop":296.6},
{"m":"UMI","pos":5.6,"b1":5.496,"b2":5.704,"wlo":47.7,"q1":104.7,"med":161.7,"q3":205.9,"wtop":279.1}
],
"donut":[
{"ring":"outer","k":"hT1","start":0,"end":67,"mid":33.9,"label":"67%"},{"ring":"outer","k":"hT2","start":67,"end":87.5,"mid":77.2,"label":"20.5%"},{"ring":"outer","k":"hT3","start":87.5,"end":100,"mid":93.7,"label":"12.5%"},
{"ring":"inner","k":"Toxoplasma","start":0,"end":22.1,"mid":12,"label":"33%"},{"ring":"inner","k":"Other","start":22.1,"end":67,"mid":45,"label":""},{"ring":"inner","k":"Toxoplasma","start":67,"end":74.6,"mid":71,"label":"37%"},{"ring":"inner","k":"Other","start":74.6,"end":87.5,"mid":81,"label":""},{"ring":"inner","k":"Toxoplasma","start":87.5,"end":92.2,"mid":89.9,"label":"38%"},{"ring":"inner","k":"Other","start":92.2,"end":100,"mid":96,"label":""}
]
},
"concat":[
{"width":406.7,"height":386,
 "encoding":{"x":{"field":"x","type":"quantitative","scale":{"domain":[0,1220.1],"nice":false,"zero":false},"axis":null},"y":{"field":"y","type":"quantitative","scale":{"domain":[1158,0],"nice":false,"zero":false},"axis":null}},
 "layer":[
  {"data":{"name":"points"},"mark":{"type":"point","filled":true,"size":10,"opacity":1},"encoding":{"color":{"field":"c","type":"nominal","scale":{"domain":["hT1","hT2","hT3"],"range":["#0fa096","#26218c","#d9201f"]},"legend":null}}},
  {"data":{"values":[{"x":213,"y":38,"c":"hT1"},{"x":722,"y":282,"c":"hT2"},{"x":302,"y":1052,"c":"hT3"}]},"mark":{"type":"point","filled":true,"size":270,"opacity":1},"encoding":{"color":{"field":"c","type":"nominal","scale":{"domain":["hT1","hT2","hT3"],"range":["#0fa096","#26218c","#d9201f"]},"legend":null}}},
  {"data":{"values":[{"x":255,"y":38,"label":"Cluster hT1"},{"x":765,"y":285,"label":"Cluster hT2"},{"x":338,"y":1054,"label":"Cluster hT3"}]},"mark":{"type":"text","align":"left","baseline":"middle","fontSize":17.5,"color":"#111"},"encoding":{"text":{"field":"label"}}},
  {"data":{"values":[{"x":3,"y":74,"label":"A"},{"x":3,"y":1212,"label":"C"}]},"mark":{"type":"text","align":"left","baseline":"alphabetic","fontSize":27,"fontWeight":"bold","color":"#000"},"encoding":{"text":{"field":"label"}}}
 ]},
{"width":278.3,"height":386,
 "encoding":{"x":{"field":"x","type":"quantitative","scale":{"domain":[141.6,976.5],"nice":false,"zero":false},"axis":null},"y":{"field":"y","type":"quantitative","scale":{"domain":[1186.5,28.5],"nice":false,"zero":false},"axis":null}},
 "layer":[
  {"data":{"name":"points"},"mark":{"type":"point","filled":true,"size":10,"opacity":1},"encoding":{"color":{"field":"t","type":"nominal","scale":{"domain":[0,1],"range":["#b5b5b5","#000000"]},"legend":null}}},
  {"data":{"values":[{"x":227,"y":1053}]},"mark":{"type":"point","filled":true,"size":290,"opacity":1,"color":"#000"}},
  {"data":{"values":[{"x":270,"y":1056,"label":"Toxoplasma identified"}]},"mark":{"type":"text","align":"left","baseline":"middle","fontSize":17.5,"color":"#111"},"encoding":{"text":{"field":"label"}}},
  {"data":{"values":[{"x":532,"y":1128,"label":"with monocyte"}]},"mark":{"type":"text","align":"center","baseline":"middle","fontSize":17.5,"color":"#111"},"encoding":{"text":{"field":"label"}}},
  {"data":{"values":[{"x":-44,"y":102,"label":"B"},{"x":-46,"y":1237,"label":"D"}]},"mark":{"type":"text","align":"left","baseline":"alphabetic","fontSize":27,"fontWeight":"bold","color":"#000"},"encoding":{"text":{"field":"label"}}}
 ]},
{"width":406.7,"height":144,
 "data":{"name":"donut"},
 "encoding":{"x":{"value":181.7},"y":{"value":162.3}},
 "layer":[
  {"transform":[{"filter":"datum.ring==='outer'"}],"mark":{"type":"arc"},"encoding":{"theta":{"field":"start","type":"quantitative","scale":{"domain":[0,100],"range":[0,6.2832]}},"theta2":{"field":"end"},"radius":{"value":126.7},"radius2":{"value":86.7},"fill":{"field":"k","type":"nominal","scale":{"domain":["hT1","hT2","hT3","Toxoplasma","Other"],"range":["#0fa096","#26218c","#d9201f","#000000","#b5b5b5"]},"legend":null}}},
  {"transform":[{"filter":"datum.ring==='inner'"}],"mark":{"type":"arc","stroke":"white","strokeWidth":2},"encoding":{"theta":{"field":"start","type":"quantitative","scale":{"domain":[0,100],"range":[0,6.2832]}},"theta2":{"field":"end"},"radius":{"value":80},"radius2":{"value":52.3},"fill":{"field":"k","type":"nominal","scale":{"domain":["hT1","hT2","hT3","Toxoplasma","Other"],"range":["#0fa096","#26218c","#d9201f","#000000","#b5b5b5"]},"legend":null}}},
  {"transform":[{"filter":"datum.ring==='outer'"}],"mark":{"type":"text","fontSize":13,"color":"#ffffff","align":"center","baseline":"middle"},"encoding":{"theta":{"field":"mid","type":"quantitative","stack":null,"scale":{"domain":[0,100],"range":[0,6.2832]}},"radius":{"value":106},"text":{"field":"label"}}},
  {"transform":[{"filter":"datum.ring==='inner'&&datum.label!==''"}],"mark":{"type":"text","fontSize":10.5,"color":"#eeeeee","align":"center","baseline":"middle"},"encoding":{"theta":{"field":"mid","type":"quantitative","stack":null,"scale":{"domain":[0,100],"range":[0,6.2832]}},"radius":{"value":66},"text":{"field":"label"}}},
  {"data":{"values":[{"from":33.2,"to":33.6},{"from":77.1,"to":77.5},{"from":93.55,"to":93.95}]},"mark":{"type":"arc","color":"#000"},"encoding":{"theta":{"field":"from","type":"quantitative","scale":{"domain":[0,100],"range":[0,6.2832]}},"theta2":{"field":"to"},"radius":{"value":135},"radius2":{"value":126}}},
  {"data":{"values":[{"at":33.9,"label":"hT1"}]},"mark":{"type":"text","fontSize":20.5,"color":"#111","align":"center","baseline":"middle"},"encoding":{"theta":{"field":"at","type":"quantitative","stack":null,"scale":{"domain":[0,100],"range":[0,6.2832]}},"radius":{"value":163},"text":{"field":"label"}}},
  {"data":{"values":[{"at":77.5,"label":"hT2"}]},"mark":{"type":"text","fontSize":20.5,"color":"#111","align":"center","baseline":"middle"},"encoding":{"theta":{"field":"at","type":"quantitative","stack":null,"scale":{"domain":[0,100],"range":[0,6.2832]}},"radius":{"value":160},"text":{"field":"label"}}},
  {"data":{"values":[{"at":93.5,"label":"hT3"}]},"mark":{"type":"text","fontSize":20.5,"color":"#111","align":"center","baseline":"middle"},"encoding":{"theta":{"field":"at","type":"quantitative","stack":null,"scale":{"domain":[0,100],"range":[0,6.2832]}},"radius":{"value":146},"text":{"field":"label"}}}
 ]},
 {"width":278.3,"height":144,"resolve":{"axis":{"x":"independent","y":"independent"}},
  "layer":[
   {"data":{"name":"violins"},"transform":[{"filter":"datum.m==='Genes'&&datum.g==='hT1'"}],"mark":{"type":"area","orient":"horizontal","interpolate":"monotone","color":{"gradient":"linear","x1":0,"y1":0,"x2":0,"y2":1,"stops":[{"offset":0,"color":"#d5f0ec"},{"offset":0.27,"color":"#0fa096"},{"offset":1,"color":"#0fa096"}]}},"encoding":{"detail":{"field":"v"},"y":{"field":"y","type":"quantitative","scale":{"domain":[0,250],"nice":false},"axis":{"values":[0,50,100,150,200,250],"labelExpr":"datum.value==0||datum.value==250?datum.label:''","labelFontSize":14.5,"tickSize":3,"labelPadding":2,"title":null}},"x":{"field":"lo","type":"quantitative","scale":{"domain":[0,6.198],"nice":false,"zero":false},"axis":{"values":[0.6,1.6,2.6,3.6,4.6,5.6],"labels":false,"tickSize":3,"title":null}},"x2":{"field":"hi"}}},
   {"data":{"name":"violins"},"transform":[{"filter":"datum.m==='Genes'&&datum.g==='hT2'"}],"mark":{"type":"area","orient":"horizontal","interpolate":"monotone","color":"#26218c"},"encoding":{"detail":{"field":"v"},"y":{"field":"y","type":"quantitative","scale":{"domain":[0,250],"nice":false},"axis":null},"x":{"field":"lo","type":"quantitative","scale":{"domain":[0,6.198],"nice":false,"zero":false},"axis":null},"x2":{"field":"hi"}}},
   {"data":{"name":"violins"},"transform":[{"filter":"datum.m==='Genes'&&datum.g==='hT3'"}],"mark":{"type":"area","orient":"horizontal","interpolate":"monotone","color":"#d9201f"},"encoding":{"detail":{"field":"v"},"y":{"field":"y","type":"quantitative","scale":{"domain":[0,250],"nice":false},"axis":null},"x":{"field":"lo","type":"quantitative","scale":{"domain":[0,6.198],"nice":false,"zero":false},"axis":null},"x2":{"field":"hi"}}},
   {"data":{"name":"boxes"},"transform":[{"filter":"datum.m==='Genes'"}],"mark":{"type":"rule","color":"#ffffff","opacity":0.7,"strokeWidth":1},"encoding":{"x":{"field":"pos","type":"quantitative","scale":{"domain":[0,6.198],"nice":false,"zero":false},"axis":null},"y":{"field":"wlo","type":"quantitative","scale":{"domain":[0,250],"nice":false},"axis":null},"y2":{"field":"wtop"}}},
   {"data":{"name":"boxes"},"transform":[{"filter":"datum.m==='Genes'"}],"mark":{"type":"rect","fillOpacity":0,"stroke":"#ffffff","strokeOpacity":0.75,"strokeWidth":1},"encoding":{"x":{"field":"b1","type":"quantitative","scale":{"domain":[0,6.198],"nice":false,"zero":false},"axis":null},"x2":{"field":"b2"},"y":{"field":"q1","type":"quantitative","scale":{"domain":[0,250],"nice":false},"axis":null},"y2":{"field":"q3"}}},
   {"data":{"name":"boxes"},"transform":[{"filter":"datum.m==='Genes'"}],"mark":{"type":"rule","color":"#ffffff","opacity":0.85,"strokeWidth":1.2},"encoding":{"x":{"field":"b1","type":"quantitative","scale":{"domain":[0,6.198],"nice":false,"zero":false},"axis":null},"x2":{"field":"b2"},"y":{"field":"med","type":"quantitative","scale":{"domain":[0,250],"nice":false},"axis":null}}},
   {"data":{"values":[{"a":0.6,"b":1.6,"y":252.3},{"a":2.6,"b":3.6,"y":252.3}]},"mark":{"type":"rule","color":"#222","strokeWidth":1.5},"encoding":{"x":{"field":"a","type":"quantitative","scale":{"domain":[0,6.198],"nice":false,"zero":false},"axis":null},"x2":{"field":"b"},"y":{"field":"y","type":"quantitative","scale":{"domain":[0,250],"nice":false},"axis":null}}},
   {"data":{"values":[{"a":1.1,"y":247,"label":"***"},{"a":3.1,"y":247,"label":"***"}]},"mark":{"type":"text","fontSize":18,"color":"#222","align":"center","baseline":"alphabetic"},"encoding":{"x":{"field":"a","type":"quantitative","scale":{"domain":[0,6.198],"nice":false,"zero":false},"axis":null},"y":{"field":"y","type":"quantitative","scale":{"domain":[0,250],"nice":false},"axis":null},"text":{"field":"label"}}},
   {"data":{"values":[{"a":-0.483,"y":134,"label":"Genes"}]},"mark":{"type":"text","fontSize":18,"color":"#111","angle":270,"align":"center","baseline":"alphabetic"},"encoding":{"x":{"field":"a","type":"quantitative","scale":{"domain":[0,6.198],"nice":false,"zero":false},"axis":null},"y":{"field":"y","type":"quantitative","scale":{"domain":[0,250],"nice":false},"axis":null},"text":{"field":"label"}}}
  ]},
 {"width":406.7,"height":144,"data":{"values":[{"label":""}]},"mark":{"type":"text"},"encoding":{"text":{"field":"label"}}},
 {"width":278.3,"height":144,"resolve":{"axis":{"x":"independent","y":"independent"}},
  "layer":[
   {"data":{"name":"violins"},"transform":[{"filter":"datum.m==='UMI'&&datum.g==='hT1'"}],"mark":{"type":"area","orient":"horizontal","interpolate":"monotone","color":{"gradient":"linear","x1":0,"y1":0,"x2":0,"y2":1,"stops":[{"offset":0,"color":"#d5f0ec"},{"offset":0.3,"color":"#0fa096"},{"offset":1,"color":"#0fa096"}]}},"encoding":{"detail":{"field":"v"},"y":{"field":"y","type":"quantitative","scale":{"domain":[0,500],"nice":false},"axis":{"values":[0,100,200,300,400,500],"labelExpr":"datum.value==0||datum.value==500?datum.label:''","labelFontSize":14.5,"tickSize":3,"labelPadding":2,"title":null}},"x":{"field":"lo","type":"quantitative","scale":{"domain":[0,6.198],"nice":false,"zero":false},"axis":{"values":[0.6,1.6,2.6,3.6,4.6,5.6],"labels":false,"tickSize":3,"title":null}},"x2":{"field":"hi"}}},
   {"data":{"name":"violins"},"transform":[{"filter":"datum.m==='UMI'&&datum.g==='hT2'"}],"mark":{"type":"area","orient":"horizontal","interpolate":"monotone","color":"#26218c"},"encoding":{"detail":{"field":"v"},"y":{"field":"y","type":"quantitative","scale":{"domain":[0,500],"nice":false},"axis":null},"x":{"field":"lo","type":"quantitative","scale":{"domain":[0,6.198],"nice":false,"zero":false},"axis":null},"x2":{"field":"hi"}}},
   {"data":{"name":"violins"},"transform":[{"filter":"datum.m==='UMI'&&datum.g==='hT3'"}],"mark":{"type":"area","orient":"horizontal","interpolate":"monotone","color":"#d9201f"},"encoding":{"detail":{"field":"v"},"y":{"field":"y","type":"quantitative","scale":{"domain":[0,500],"nice":false},"axis":null},"x":{"field":"lo","type":"quantitative","scale":{"domain":[0,6.198],"nice":false,"zero":false},"axis":null},"x2":{"field":"hi"}}},
   {"data":{"name":"boxes"},"transform":[{"filter":"datum.m==='UMI'"}],"mark":{"type":"rule","color":"#ffffff","opacity":0.7,"strokeWidth":1},"encoding":{"x":{"field":"pos","type":"quantitative","scale":{"domain":[0,6.198],"nice":false,"zero":false},"axis":null},"y":{"field":"wlo","type":"quantitative","scale":{"domain":[0,500],"nice":false},"axis":null},"y2":{"field":"wtop"}}},
   {"data":{"name":"boxes"},"transform":[{"filter":"datum.m==='UMI'"}],"mark":{"type":"rect","fillOpacity":0,"stroke":"#ffffff","strokeOpacity":0.75,"strokeWidth":1},"encoding":{"x":{"field":"b1","type":"quantitative","scale":{"domain":[0,6.198],"nice":false,"zero":false},"axis":null},"x2":{"field":"b2"},"y":{"field":"q1","type":"quantitative","scale":{"domain":[0,500],"nice":false},"axis":null},"y2":{"field":"q3"}}},
   {"data":{"name":"boxes"},"transform":[{"filter":"datum.m==='UMI'"}],"mark":{"type":"rule","color":"#ffffff","opacity":0.85,"strokeWidth":1.2},"encoding":{"x":{"field":"b1","type":"quantitative","scale":{"domain":[0,6.198],"nice":false,"zero":false},"axis":null},"x2":{"field":"b2"},"y":{"field":"med","type":"quantitative","scale":{"domain":[0,500],"nice":false},"axis":null}}},
   {"data":{"values":[{"a":0.6,"b":1.6,"y":514},{"a":2.6,"b":3.6,"y":514}]},"mark":{"type":"rule","color":"#222","strokeWidth":1.5},"encoding":{"x":{"field":"a","type":"quantitative","scale":{"domain":[0,6.198],"nice":false,"zero":false},"axis":null},"x2":{"field":"b"},"y":{"field":"y","type":"quantitative","scale":{"domain":[0,500],"nice":false},"axis":null}}},
   {"data":{"values":[{"a":1.1,"y":503,"label":"***"},{"a":3.1,"y":503,"label":"**"}]},"mark":{"type":"text","fontSize":18,"color":"#222","align":"center","baseline":"alphabetic"},"encoding":{"x":{"field":"a","type":"quantitative","scale":{"domain":[0,6.198],"nice":false,"zero":false},"axis":null},"y":{"field":"y","type":"quantitative","scale":{"domain":[0,500],"nice":false},"axis":null},"text":{"field":"label"}}},
   {"data":{"values":[{"a":-0.445,"y":261.5,"label":"UMI"}]},"mark":{"type":"text","fontSize":18,"color":"#111","angle":270,"align":"center","baseline":"alphabetic"},"encoding":{"x":{"field":"a","type":"quantitative","scale":{"domain":[0,6.198],"nice":false,"zero":false},"axis":null},"y":{"field":"y","type":"quantitative","scale":{"domain":[0,500],"nice":false},"axis":null},"text":{"field":"label"}}},
   {"data":{"values":[{"a":0.6,"y":-29,"k":"no"},{"a":1.6,"y":-29,"k":"yes"},{"a":2.6,"y":-29,"k":"no"},{"a":3.6,"y":-29,"k":"yes"},{"a":4.6,"y":-29,"k":"no"},{"a":5.6,"y":-29,"k":"yes"}]},"mark":{"type":"point","filled":true,"size":85,"opacity":1},"encoding":{"x":{"field":"a","type":"quantitative","scale":{"domain":[0,6.198],"nice":false,"zero":false},"axis":null},"y":{"field":"y","type":"quantitative","scale":{"domain":[0,500],"nice":false},"axis":null},"color":{"field":"k","type":"nominal","scale":{"domain":["no","yes","hT1","hT2","hT3"],"range":["#b5b5b5","#000000","#0fa096","#26218c","#d9201f"]},"legend":null}}},
   {"data":{"values":[{"a":0.074,"b":1.97,"y":-65,"k":"hT1"},{"a":2.116,"b":4.01,"y":-65,"k":"hT2"},{"a":4.157,"b":6.065,"y":-65,"k":"hT3"}]},"mark":{"type":"rule","strokeWidth":2},"encoding":{"x":{"field":"a","type":"quantitative","scale":{"domain":[0,6.198],"nice":false,"zero":false},"axis":null},"x2":{"field":"b"},"y":{"field":"y","type":"quantitative","scale":{"domain":[0,500],"nice":false},"axis":null},"color":{"field":"k","type":"nominal","scale":{"domain":["no","yes","hT1","hT2","hT3"],"range":["#b5b5b5","#000000","#0fa096","#26218c","#d9201f"]},"legend":null}}},
   {"data":{"values":[{"a":1.08,"y":-112,"label":"hT1"},{"a":3.13,"y":-112,"label":"hT2"},{"a":5.17,"y":-112,"label":"hT3"}]},"mark":{"type":"text","fontSize":17.5,"color":"#111","align":"center","baseline":"middle"},"encoding":{"x":{"field":"a","type":"quantitative","scale":{"domain":[0,6.198],"nice":false,"zero":false},"axis":null},"y":{"field":"y","type":"quantitative","scale":{"domain":[0,500],"nice":false},"axis":null},"text":{"field":"label"}}}
  ]}
]}
